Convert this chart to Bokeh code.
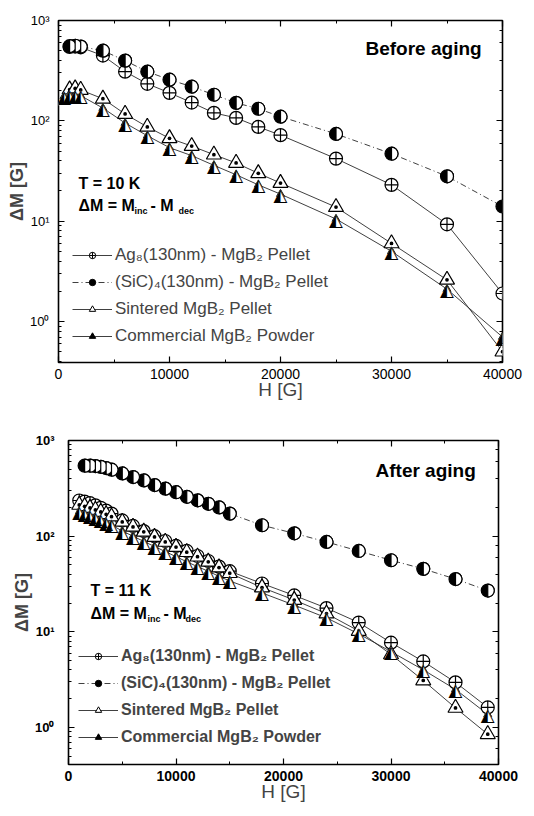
from math import pi
from bokeh.plotting import figure
from bokeh.models import (Range1d, LogAxis, LinearAxis, Legend, LegendItem, Label,
                          SingleIntervalTicker)
from bokeh.embed import file_html
from bokeh.resources import INLINE
from bokeh.core.properties import value

FONT = "Liberation Sans"
MARK_FONT = "DejaVu Sans"
LINE = "#2a2a2a"

# ---------------- Before aging (T = 10 K) ----------------
h_circles_before = [1000, 1500, 2000, 4000, 6000, 8000, 10000, 12000, 14000, 16000,
                    18000, 20000, 25000, 30000, 35000, 40000]
ag_before = [545, 550, 540, 447, 309, 234, 190, 152, 120, 107, 87, 72, 42, 23, 9.3, 1.9]
sic_before = [555, 560, 550, 500, 398, 309, 257, 219, 182, 151, 132, 110, 74, 47, 28, 14]
h_sintered_before = [1000, 1500, 2000, 4000, 6000, 8000, 10000, 12000, 14000, 16000,
                     18000, 20000, 25000, 30000, 35000, 40000]
sintered_before = [205, 210, 203, 166, 117, 87, 67, 56, 46, 38, 30, 24, 13.8, 6.0, 2.6, 0.5]
h_commercial_before = [500, 1000, 1500, 2000, 4000, 6000, 8000, 10000, 12000, 14000,
                       16000, 18000, 20000, 25000, 30000, 35000, 40000]
commercial_before = [176, 178, 180, 178, 134, 95, 71, 54, 45, 36, 29, 23, 18.6, 10.5,
                     5.0, 2.1, 0.7]

# ---------------- After aging (T = 11 K) ----------------
h_after = [1000, 1500, 2000, 2500, 3000, 3500, 4000, 5000, 6000, 7000, 8000, 9000,
           10000, 11000, 12000, 13000, 14000, 15000, 18000, 21000, 24000, 27000,
           30000, 33000, 36000, 39000]
ag_after = [236, 230, 221, 210, 198, 185, 172, 146, 128, 113, 100, 89, 79, 70, 62, 55,
            48, 43, 32, 24, 17.7, 12.5, 7.7, 4.9, 2.96, 1.62]
sintered_after = [212, 205, 197, 188, 179, 169, 160, 141, 125, 111, 98, 87, 77, 68, 61,
                  54, 47, 41, 29, 21.5, 15.5, 10.2, 5.8, 3.1, 1.6, 0.85]
commercial_after = [180, 172, 165, 157, 148, 140, 131, 113, 100, 88, 78, 69, 61, 54, 48,
                    43, 38, 34, 25.5, 19, 14, 9.5, 6.2, 4.0, 2.5, 1.37]
h_sic_after = [1500, 2000, 2500, 3000, 3500, 4000, 5000, 6000, 7000, 8000, 9000, 10000,
               11000, 12000, 13000, 14000, 15000, 18000, 21000, 24000, 27000, 30000,
               33000, 36000, 39000]
sic_after = [545, 545, 540, 530, 515, 495, 453, 415, 383, 342, 314, 288, 258, 237, 218,
             200, 172, 130, 107, 87, 70, 56, 45.5, 35.6, 27]

legend_labels = ["Ag\u2088(130nm) - MgB\u2082 Pellet",
                 "(SiC)\u2084(130nm) - MgB\u2082 Pellet",
                 "Sintered MgB\u2082 Pellet",
                 "Commercial MgB\u2082 Powder"]
y_tick_labels = {1: "10\u2070", 10: "10\u00b9", 100: "10\u00b2", 1000: "10\u00b3"}
x_label = "H [G]"
y_label = "\u0394M [G]"


def panel(height, bl, br, bt, bb, ymin, series, title, temp, weight, ylab_standoff,
          legend_xy, legend_size, text_pos):
    (h_ag, ag), (h_sic, sic), (h_sin, sin), (h_com, com) = series
    p = figure(width=534, height=height, x_range=Range1d(0, 40000),
               y_range=Range1d(ymin, 1000), y_axis_type="log",
               output_backend="svg", toolbar_location=None,
               min_border_left=bl, min_border_right=br, min_border_top=bt,
               min_border_bottom=bb)
    p.xgrid.visible = False
    p.ygrid.visible = False
    p.outline_line_color = "black"
    p.outline_line_width = 1.6
    p.background_fill_color = "white"
    p.border_fill_color = "white"

    xb = p.xaxis[0]
    yl = p.yaxis[0]
    xb.ticker = SingleIntervalTicker(interval=10000, num_minor_ticks=2)
    xb.axis_label = x_label
    xb.axis_label_text_font = FONT
    xb.axis_label_text_font_size = "19px"
    xb.axis_label_text_font_style = "normal"
    xb.axis_label_standoff = -3
    xb.major_label_standoff = 6
    xb.major_label_text_font_size = "14px"
    yl.axis_label = y_label
    yl.axis_label_text_font = FONT
    yl.axis_label_text_font_size = "18px"
    yl.axis_label_text_font_style = "bold"
    yl.axis_label_standoff = 0
    yl.major_label_standoff = ylab_standoff
    yl.major_label_text_font_size = "13px"
    yl.major_label_overrides = y_tick_labels

    xt = LinearAxis(ticker=SingleIntervalTicker(interval=10000, num_minor_ticks=2))
    yr = LogAxis()
    p.add_layout(xt, "above")
    p.add_layout(yr, "right")
    for ax in (xt, yr):
        ax.major_label_text_font_size = "10px"
        ax.major_label_text_color = None
        ax.major_label_standoff = 0
    for ax in (xb, yl, xt, yr):
        ax.axis_line_color = None
        ax.major_tick_in = 6
        ax.major_tick_out = 0
        ax.minor_tick_in = 3
        ax.minor_tick_out = 0
        ax.major_tick_line_color = "black"
        ax.minor_tick_line_color = "black"
        ax.major_tick_line_width = 1.2
        ax.minor_tick_line_width = 1
        ax.major_label_text_font = FONT
        ax.major_label_text_font_style = weight
    xb.major_label_text_color = "black"
    yl.major_label_text_color = "black"

    # connecting lines
    l_ag = p.line(h_ag, ag, line_color=LINE, line_width=0.9)
    l_sic = p.line(h_sic, sic, line_color=LINE, line_width=0.9, line_dash="6 3 1 3")
    l_sin = p.line(h_sin, sin, line_color=LINE, line_width=0.9)
    l_com = p.line(h_com, com, line_color=LINE, line_width=0.9)

    # small markers (legend samples, hidden under the full-size markers)
    k_ag = p.scatter(h_ag, ag, marker="circle_cross", size=7, fill_color="white",
                     line_color="black", line_width=1)
    k_sic = p.scatter(h_sic, sic, marker="circle", size=7, fill_color="black",
                      line_color="black", line_width=1)
    k_sin = p.scatter(h_sin, sin, marker="triangle", size=8, fill_color="white",
                      line_color="black", line_width=1)
    k_com = p.scatter(h_com, com, marker="triangle", size=8, fill_color="black",
                      line_color="black", line_width=1)

    # full-size markers
    p.scatter(h_ag, ag, marker="circle_cross", size=13, fill_color="white",
              line_color="black", line_width=1.2)
    p.scatter(h_sic, sic, marker="circle", size=13, fill_color="black",
              line_color="black", line_width=1.2)
    p.wedge(h_sic, sic, radius=6.5, radius_units="screen", start_angle=-pi / 2,
            end_angle=pi / 2, fill_color="white", line_color="black", line_width=1.2)
    p.scatter(h_sin, sin, marker="triangle_dot", size=15, fill_color="white",
              line_color="black", line_width=1.2)
    n = len(h_com)
    p.text(h_com, com, text=["\u25b2"] * n, text_color="white",
           text_font=value(MARK_FONT), text_font_size="18px", text_align="center",
           text_baseline="middle")
    p.text(h_com, com, text=["\u25ed"] * n, text_color="black",
           text_font=value(MARK_FONT), text_font_size="18px", text_align="center",
           text_baseline="middle")

    legend = Legend(items=[LegendItem(label=legend_labels[0], renderers=[l_ag, k_ag]),
                           LegendItem(label=legend_labels[1], renderers=[l_sic, k_sic]),
                           LegendItem(label=legend_labels[2], renderers=[l_sin, k_sin]),
                           LegendItem(label=legend_labels[3], renderers=[l_com, k_com])],
                    location=legend_xy)
    legend.label_text_font = FONT
    legend.label_text_font_size = legend_size
    legend.label_text_font_style = weight
    legend.glyph_width = 40
    legend.glyph_height = 16
    legend.label_height = 20
    legend.spacing = 7
    legend.padding = 0
    legend.margin = 0
    legend.label_standoff = 3
    legend.background_fill_alpha = 0
    legend.border_line_alpha = 0
    p.add_layout(legend)

    def lab(x, y, text, size, style="bold"):
        p.add_layout(Label(x=x, y=y, x_units="screen", y_units="screen", text=text,
                           text_font=FONT, text_font_size=size, text_font_style=style,
                           text_baseline="middle", text_align="left",
                           text_color="black"))

    (tx, ty), (tempx, tempy), (dx, dy), offs = text_pos
    lab(tx, ty, title, "19px")
    lab(tempx, tempy, temp, "16px")
    lab(dx, dy, "\u0394M = M", "16px")
    lab(dx + offs[0], dy - 5, "inc", "9px")
    lab(dx + offs[1], dy, "- M", "16px")
    lab(dx + offs[2], dy - 5, "dec", "9px")
    return p


p1 = panel(405, 58, 32, 20, 43, 0.39,
           [(h_circles_before, ag_before), (h_circles_before, sic_before),
            (h_sintered_before, sintered_before), (h_commercial_before, commercial_before)],
           "Before aging", "T = 10 K", "normal", 9, (14, 16), "17px",
           ((307, 314), (20, 179), (20, 157), (56, 72, 100)))
p2 = panel(411, 68, 36, 35, 52, 0.41,
           [(h_after, ag_after), (h_sic_after, sic_after),
            (h_after, sintered_after), (h_after, commercial_after)],
           "After aging", "T = 11 K", "bold", 14, (10, 17), "16px",
           ((307, 294), (22, 174), (22, 151), (57, 73, 95)))

open("out.html", "w").write(file_html([p1, p2], INLINE))
